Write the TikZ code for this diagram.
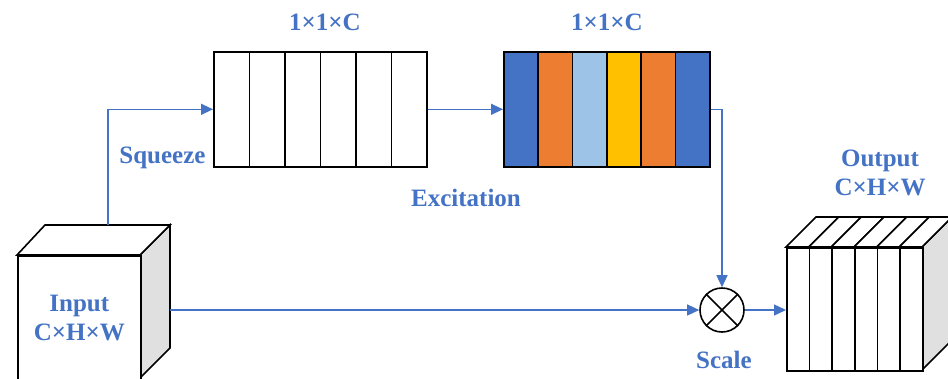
\documentclass[tikz,border=0pt]{standalone}
\usepackage{fontspec}
\setmainfont{Liberation Serif}
\usetikzlibrary{arrows.meta}

\definecolor{seblue}{HTML}{4472C4}
\definecolor{seorange}{HTML}{ED7D31}
\definecolor{selight}{HTML}{9DC3E6}
\definecolor{seyellow}{HTML}{FFC000}
\definecolor{seside}{HTML}{E0E0E0}

\begin{document}
\begin{tikzpicture}[x=1pt, y=-1pt,
  blk/.style={draw, line width=1.6pt},
  col/.style={blk, inner sep=0pt, anchor=north west, minimum height=115pt},
  lbl/.style={text=seblue, font=\fontsize{25}{29}\selectfont\bfseries, align=center},
  arr/.style={draw=seblue, line width=1.4pt, -{Triangle[length=12pt,width=11pt]}}]

\useasboundingbox (0,0) rectangle (948,378);

%% input cube
\draw[blk, fill=seside] (140,255) -- (170,225) -- (170,348) -- (140,378) -- cycle;
\draw[blk, fill=white] (17,255) -- (45,225) -- (170,225) -- (140,255) -- cycle;
\node[blk, fill=white, lbl, inner sep=0pt, anchor=north west,
  minimum width=123pt, minimum height=124pt] (in) at (17,255) {Input\\C×H×W};
\coordinate (intop) at (108,225);
\coordinate (inside) at (170,310);

%% squeeze
\foreach \i in {1,...,6}
  \node[col, fill=white, minimum width=35.5pt] (s\i) at ({213+(\i-1)*35.5},51) {};

%% excitation
\foreach \i/\c in {1/seblue,2/seorange,3/selight,4/seyellow,5/seorange,6/seblue}
  \node[col, fill=\c, minimum width=34.33pt] (e\i) at ({503+(\i-1)*34.33},51) {};

%% scale
\node[blk, circle, minimum size=44pt, inner sep=0pt] (mul) at (722,310) {};
\draw[blk] (mul.45) -- (mul.225) (mul.135) -- (mul.315);

%% output
\draw[blk, fill=seside] (922,247) -- (952,217) -- (952,340) -- (922,370) -- cycle;
\foreach \i in {1,...,6}{
  \draw[blk, fill=white] ({786+(\i-1)*22.67},247) -- ++(30,-30) -- ++(22.67,0) -- ++(-30,30) -- cycle;
  \node[blk, fill=white, inner sep=0pt, anchor=north west,
    minimum width=22.67pt, minimum height=123pt] (o\i) at ({786+(\i-1)*22.67},247) {};
}

%% labels
\node[lbl] (sqdim) at (325,22) {1×1×C};
\node[lbl] (exdim) at (607,22) {1×1×C};
\node[lbl, anchor=east] (sqlbl) at (209,158) {Squeeze};
\node[lbl] (exlbl) at (466,198) {Excitation};
\node[lbl] (sclbl) at (724,360) {Scale};
\node[lbl] (outlbl) at (880,173) {Output\\C×H×W};

%% arrows
\draw[arr] (intop) |- (s1.west);
\draw[arr] (s6.east) -- (e1.west);
\draw[arr] (e6.east) -| (mul.north);
\draw[arr] (inside) -- (mul.west);
\draw[arr] (mul.east) -- (mul.east -| o1.west);

\end{tikzpicture}
\end{document}
